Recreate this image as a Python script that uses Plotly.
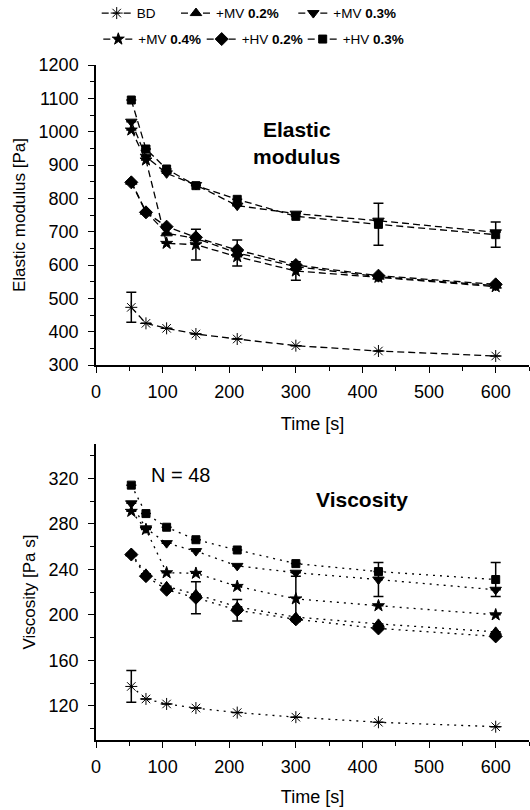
import math
import plotly.graph_objects as go

NaN = float("nan")

# ---------------- data ----------------
time_s = [53, 75, 106, 150, 212, 300, 424, 600]

series_names = ["BD", "+MV <b>0.2%</b>", "+MV <b>0.3%</b>",
                "+MV <b>0.4%</b>", "+HV <b>0.2%</b>", "+HV <b>0.3%</b>"]
series_symbols = ["asterisk-open", "triangle-up", "triangle-down",
                  "star", "diamond", "square"]
series_sizes = [10, 10, 10, 9, 10, 8]

# Elastic modulus [Pa]
elastic_bd = [473, 425, 410, 393, 378, 358, 342, 327]
elastic_mv02 = [850, 760, 695, 680, 636, 595, 565, 538]
elastic_mv03 = [1030, 925, 875, 840, 778, 754, 733, 698]
elastic_mv04 = [1005, 915, 665, 661, 625, 582, 563, 535]
elastic_hv02 = [848, 758, 715, 683, 645, 600, 568, 542]
elastic_hv03 = [1095, 948, 888, 838, 797, 746, 722, 691]

elastic_err_bd = [45, NaN, NaN, NaN, NaN, NaN, NaN, NaN]
elastic_err_mv02 = [NaN, NaN, NaN, NaN, 39, NaN, NaN, NaN]
elastic_err_mv03 = [NaN] * 8
elastic_err_mv04 = [NaN, NaN, NaN, 46, NaN, 28, NaN, NaN]
elastic_err_hv02 = [NaN] * 8
elastic_err_hv03 = [NaN, NaN, NaN, NaN, NaN, NaN, 63, 38]

# Viscosity [Pa s]
visc_bd = [137, 126, 121.6, 118, 114, 110, 105.5, 101.6]
visc_mv02 = [254, 236, 225, 218, 207, 198, 192, 185]
visc_mv03 = [298, 276, 263, 256, 243, 237, 231, 222]
visc_mv04 = [291, 275, 237, 236.5, 225, 214, 208, 200]
visc_hv02 = [253, 234, 222, 215, 204, 196, 188, 181]
visc_hv03 = [314, 289, 277, 266, 257, 245, 238, 231]

visc_err_bd = [14, NaN, NaN, NaN, NaN, NaN, NaN, NaN]
visc_err_mv02 = [NaN] * 8
visc_err_mv03 = [NaN, NaN, NaN, NaN, NaN, NaN, 15, NaN]
visc_err_mv04 = [NaN, NaN, NaN, NaN, NaN, 20, NaN, NaN]
visc_err_hv02 = [NaN, NaN, NaN, 14, 9.5, NaN, NaN, NaN]
visc_err_hv03 = [NaN, NaN, NaN, NaN, NaN, NaN, NaN, 15]

elastic_series = [elastic_bd, elastic_mv02, elastic_mv03, elastic_mv04, elastic_hv02, elastic_hv03]
elastic_errors = [elastic_err_bd, elastic_err_mv02, elastic_err_mv03, elastic_err_mv04, elastic_err_hv02, elastic_err_hv03]
visc_series = [visc_bd, visc_mv02, visc_mv03, visc_mv04, visc_hv02, visc_hv03]
visc_errors = [visc_err_bd, visc_err_mv02, visc_err_mv03, visc_err_mv04, visc_err_hv02, visc_err_hv03]

# ---------------- figure ----------------
FONT = "Liberation Sans, Arial, Helvetica, sans-serif"
W, H = 530, 810
ML, MR = 96, 1
PW = W - ML - MR

fig = go.Figure()

legend_ids = ["legend", "legend2", "legend3", "legend4", "legend5", "legend6"]

for i, name in enumerate(series_names):
    marker = dict(symbol=series_symbols[i], size=series_sizes[i], color="black",
                  line=dict(color="black", width=1))
    fig.add_trace(go.Scatter(
        x=time_s, y=elastic_series[i], name=name, mode="lines+markers",
        line=dict(color="black", width=1.3, dash="7px,4px"),
        marker=marker,
        error_y=dict(type="data", array=elastic_errors[i], visible=True,
                     color="black", thickness=1.5, width=5),
        xaxis="x", yaxis="y", legend=legend_ids[i], showlegend=True,
    ))

for i, name in enumerate(series_names):
    marker = dict(symbol=series_symbols[i], size=series_sizes[i], color="black",
                  line=dict(color="black", width=1))
    fig.add_trace(go.Scatter(
        x=time_s, y=visc_series[i], name=name, mode="lines+markers",
        line=dict(color="black", width=1.3, dash="2px,5px"),
        marker=marker,
        error_y=dict(type="data", array=visc_errors[i], visible=True,
                     color="black", thickness=1.5, width=5),
        xaxis="x2", yaxis="y2", showlegend=False,
    ))

axis_common = dict(
    showline=True, linecolor="black", linewidth=1.5,
    ticks="outside", ticklen=6, tickwidth=1.3, tickcolor="black",
    showgrid=False, zeroline=False, automargin=False,
    tickfont=dict(family=FONT, size=18, color="black"),
    title_font=dict(family=FONT, size=18, color="black"),
)

minor_style = dict(ticklen=4, tickwidth=1.3, tickcolor="black", ticks="outside")

xaxis_common = dict(axis_common, range=[0, 650], tick0=0, dtick=100,
                    ticklabelstandoff=4, minor=dict(minor_style, dtick=50))

legend_px = [(96.7, 13.3), (176, 13.3), (293.3, 13.3),
             (98.3, 39.3), (201.7, 39.3), (302.7, 39.3)]

layout_legends = {}
for lid, (px, py) in zip(legend_ids, legend_px):
    layout_legends[lid] = dict(
        x=(px - ML) / PW, y=1 - py / H, xanchor="left", yanchor="middle",
        orientation="h", bgcolor="rgba(0,0,0,0)", borderwidth=0,
        font=dict(family=FONT, size=13.5, color="black"),
        itemwidth=30,
    )

fig.update_layout(
    width=W, height=H,
    margin=dict(l=ML, r=MR, t=0, b=0, autoexpand=False),
    paper_bgcolor="white", plot_bgcolor="white",
    font=dict(family=FONT, color="black"),
    xaxis=dict(xaxis_common, domain=[0, 1], anchor="y",
               title=dict(text="Time [s]", standoff=16)),
    yaxis=dict(axis_common, domain=[1 - 365 / H, 1 - 65 / H], anchor="x",
               range=[300, 1200], tick0=0, dtick=100, ticklabelstandoff=6,
               minor=dict(minor_style, dtick=50),
               title=dict(text="Elastic modulus [Pa]", standoff=9,
                          font=dict(family=FONT, size=17, color="black"))),
    xaxis2=dict(xaxis_common, domain=[0, 1], anchor="y2",
                title=dict(text="Time [s]", standoff=14)),
    yaxis2=dict(axis_common, domain=[1 - 739.9 / H, 1 - 444.2 / H], anchor="x2",
                range=[90, 350], tick0=0, dtick=40, ticklabelstandoff=6,
                minor=dict(minor_style, dtick=20),
                title=dict(text="Viscosity [Pa s]", standoff=9,
                           font=dict(family=FONT, size=17, color="black"))),
    annotations=[
        dict(text="<b>Elastic<br>modulus</b>", x=302, y=965, xref="x", yref="y",
             showarrow=False, font=dict(family=FONT, size=21, color="black"),
             align="center"),
        dict(text="<b>Viscosity</b>", x=400, y=301, xref="x2", yref="y2",
             showarrow=False, font=dict(family=FONT, size=21, color="black")),
        dict(text="N = 48", x=127, y=323, xref="x2", yref="y2",
             showarrow=False, font=dict(family=FONT, size=20, color="black")),
    ],
    **layout_legends,
)

fig.write_html("out.html", config={"displayModeBar": False},
               post_script="document.body.style.margin='0px';")
